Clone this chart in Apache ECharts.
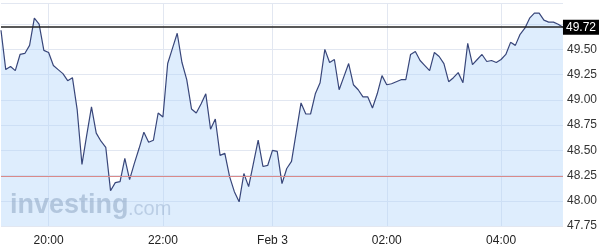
<!DOCTYPE html>
<html>
<head>
<meta charset="utf-8">
<script src="https://cdn.jsdelivr.net/npm/echarts@6/dist/echarts.min.js"></script>
<style>
html,body{margin:0;padding:0;background:#fff;}
#chart{width:600px;height:250px;}
</style>
</head>
<body>
<div id="chart"></div>
<script>
// 5-minute time categories, 19:10 -> 05:05 (one bar missing at 23:30)
const startTime = '19:10';
const endTime = '05:05';
const missingTimes = ['23:30'];
const categories = [];
(function () {
  let m = 19 * 60 + 10;
  while (true) {
    const h = Math.floor(m / 60) % 24, mm = m % 60;
    const s = String(h).padStart(2, '0') + ':' + String(mm).padStart(2, '0');
    if (missingTimes.indexOf(s) < 0) categories.push(s);
    if (s === endTime) break;
    m += 5;
  }
})();

const prices = [
  49.69, 49.30, 49.33, 49.29, 49.45, 49.46, 49.54, 49.81, 49.75, 49.49,
  49.47, 49.34, 49.30, 49.26, 49.19, 49.22, 48.90, 48.36, 48.65, 48.93,
  48.67, 48.59, 48.53, 48.10, 48.18, 48.19, 48.42, 48.21, 48.37, 48.52,
  48.68, 48.58, 48.60, 48.87, 48.83, 49.36, 49.51, 49.66, 49.37, 49.20,
  48.91, 48.87, 48.96, 49.06, 48.71, 48.81, 48.45, 48.47, 48.24, 48.09,
  47.99, 48.27, 48.14, 48.37, 48.60, 48.34, 48.35, 48.50, 48.49, 48.17,
  48.32, 48.39, 48.68, 48.97, 48.86, 48.86, 49.06, 49.17, 49.50, 49.37,
  49.40, 49.10, 49.23, 49.36, 49.15, 49.10, 49.03, 49.03, 48.92, 49.06,
  49.24, 49.15, 49.16, 49.18, 49.20, 49.20, 49.45, 49.48, 49.39, 49.34,
  49.29, 49.47, 49.43, 49.36, 49.18, 49.22, 49.27, 49.17, 49.56, 49.35,
  49.40, 49.45, 49.38, 49.39, 49.37, 49.40, 49.45, 49.57, 49.54, 49.65,
  49.71, 49.81, 49.86, 49.86, 49.79, 49.77, 49.77, 49.75, 49.72
];

const lastPrice = 49.72;
const prevClose = 48.24;

const xTickLabels = { '20:00': '20:00', '22:00': '22:00', '00:00': 'Feb 3', '02:00': '02:00', '04:00': '04:00' };
const yMin = 47.75, yMax = 49.96, yStep = 0.25;
const yLabelMaxShown = 49.5;

const chart = echarts.init(document.getElementById('chart'), null, { renderer: 'canvas' });
const font = "'Liberation Sans', Arial, sans-serif";

chart.setOption({
  animation: false,
  backgroundColor: '#ffffff',
  grid: { left: 1, right: 37, top: 3, bottom: 24 },
  xAxis: {
    type: 'category',
    data: categories,
    boundaryGap: false,
    axisLine: { show: false },
    axisTick: { show: false },
    axisLabel: {
      interval: (i, v) => v in xTickLabels,
      formatter: v => xTickLabels[v] || '',
      color: '#222', fontSize: 12, fontFamily: font, margin: 9
    },
    splitLine: {
      show: true,
      interval: (i, v) => v in xTickLabels,
      lineStyle: { color: '#e2e7f1', width: 1 }
    }
  },
  yAxis: {
    type: 'value',
    position: 'right',
    min: yMin, max: yMax, interval: yStep,
    axisLine: { show: false },
    axisTick: { show: false },
    axisLabel: {
      color: '#333', fontSize: 12, fontFamily: font, margin: 4,
      formatter: v => (v > yLabelMaxShown + 0.01 ? '' : v.toFixed(2))
    },
    splitLine: { lineStyle: { color: '#e2e7f1', width: 1 } }
  },
  graphic: [
    {
      type: 'text', left: 10, top: 192, z: 1, silent: true,
      style: { text: 'investing', font: "bold 27px 'Liberation Sans', Arial, sans-serif", fill: 'rgba(135,148,170,0.62)' }
    },
    {
      type: 'text', left: 128, top: 199, z: 1, silent: true,
      style: { text: '.com', font: "20px 'Liberation Sans', Arial, sans-serif", fill: 'rgba(145,158,180,0.55)' }
    }
  ],
  series: [{
    type: 'line',
    data: prices,
    symbol: 'none',
    z: 3,
    lineStyle: { color: '#38467a', width: 1.2 },
    areaStyle: { color: 'rgba(175,210,250,0.58)', origin: 'start' },
    markLine: {
      silent: true,
      symbol: 'none',
      animation: false,
      data: [
        {
          yAxis: prevClose,
          lineStyle: { color: '#d98a8a', width: 1.2, type: 'solid' },
          label: { show: false }
        },
        {
          yAxis: lastPrice,
          lineStyle: { color: '#222', width: 1.5, type: 'solid' },
          label: {
            show: true, position: 'end', distance: 0,
            formatter: lastPrice.toFixed(2),
            color: '#fff', backgroundColor: '#000',
            fontSize: 12, fontFamily: font,
            padding: [2, 3, 1, 3]
          }
        }
      ]
    }
  }]
});
</script>
</body>
</html>
